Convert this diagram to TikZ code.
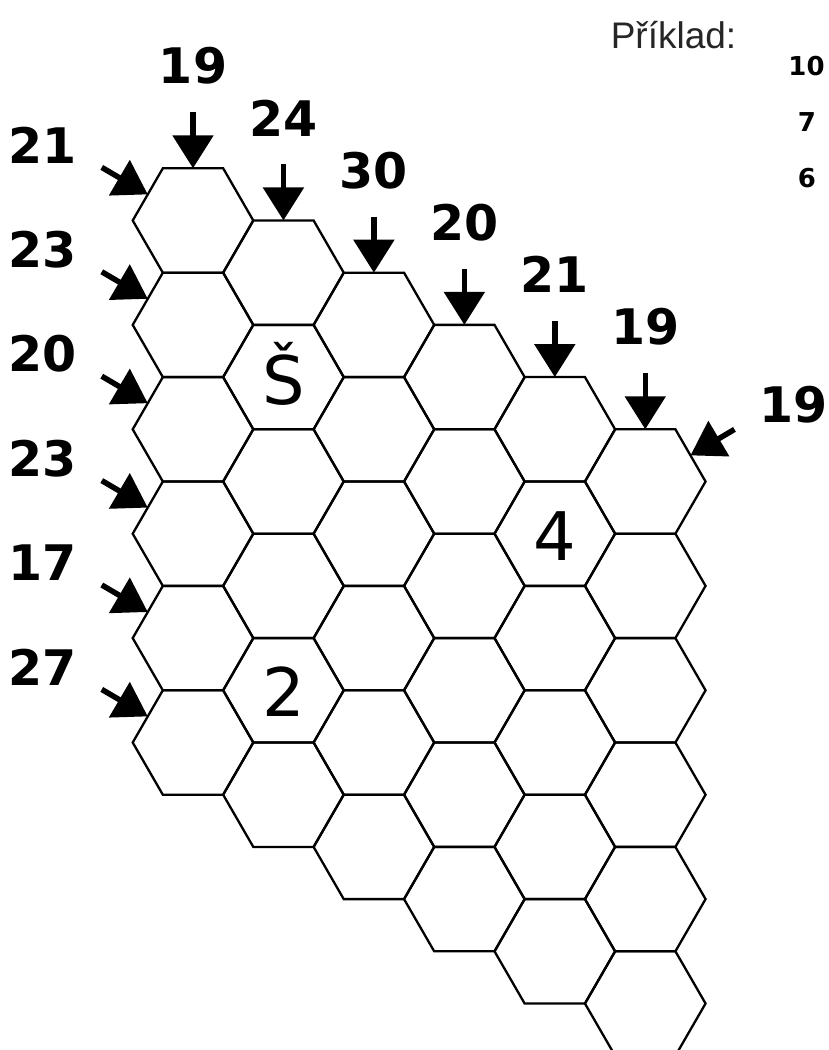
\documentclass[tikz,border=0pt]{standalone}
\usepackage{fontspec}
\setmainfont{DejaVu Sans}
\newfontfamily\arialfont{Liberation Sans}
\usetikzlibrary{arrows.meta,shapes.geometric,calc}
\begin{document}
\begin{tikzpicture}[x=1pt,y=1pt,
  hexcell/.style={regular polygon, regular polygon sides=6, minimum size=120.6pt,
    inner sep=0pt, outer sep=0pt, draw, line width=2.3pt},
  clue/.style={font=\fontsize{49}{60}\selectfont\bfseries, inner sep=0pt},
  cellval/.style={font=\fontsize{67}{80}\selectfont, inner sep=0pt, anchor=base},
  pointer/.style={line width=5.5pt, -{Triangle[length=33pt,width=40pt]}},
  example/.style={font=\fontsize{26}{30}\selectfont\bfseries, inner sep=0pt},
]
\useasboundingbox (0,0) rectangle (828,-1050);
\clip (0,0) rectangle (828,-1050);
% hexagonal grid
\foreach \c in {0,...,5}{
  \foreach \r in {0,...,5}{
    \node[hexcell] (h\c\r) at ({193+90.45*\c},{-(220.5+52.2*\c+104.4*\r)}) {};
  }
}
% top clues
\foreach \c/\v in {0/19,1/24,2/30,3/20,4/21,5/19}{
  \coordinate (t\c) at ($(h\c0.north)+(0,56)$);
  \draw[pointer] (t\c) -- (h\c0.north);
  \node[clue] (tl\c) at ($(h\c0.center)+(0,154.5)$) {\v};
}
% left clues
\foreach \r/\v in {0/21,1/23,2/20,3/23,4/17,5/27}{
  \coordinate (l\r) at ($(h0\r.150)+(-46,27)$);
  \draw[pointer] (l\r) -- (h0\r.150);
  \node[clue] (ll\r) at ($(h0\r.center)+(-150.5,75.5)$) {\v};
}
% right clue
\coordinate (rs) at ($(h50.30)+(44,26)$);
\draw[pointer] (rs) -- (h50.30);
\node[clue] (rl) at ($(h50.center)+(148.5,76.5)$) {19};
% cell values
\node[cellval] (vS) at ($(h11.center)+(0,-27)$) {Š};
\node[cellval] (v2) at ($(h14.center)+(0,-26.5)$) {2};
\node[cellval] (v4) at ($(h41.center)+(0,-26.5)$) {4};
% example
\node[font=\arialfont\fontsize{37}{44}\selectfont, text=black!85, anchor=base, inner sep=0pt] (ex) at (673.5,-48) {Příklad:};
\node[example] (e1) at (806.5,-66.5) {10};
\node[example] (e2) at (807,-122) {7};
\node[example] (e3) at (807,-178) {6};
\end{tikzpicture}
\end{document}
